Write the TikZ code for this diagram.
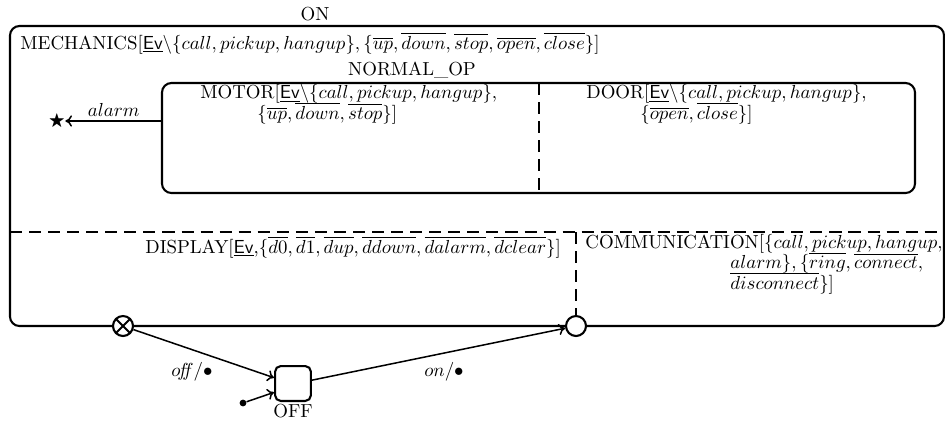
\documentclass[tikz,border=0pt]{standalone}
\usepackage{amssymb}
\usetikzlibrary{arrows.meta,fit}
\begin{document}
\begin{tikzpicture}[x=0.53pt,y=-0.53pt,
  box/.style={draw, line width=1.1pt, rounded corners=5pt, inner sep=0pt},
  sep/.style={line width=1.1pt, dash pattern=on 6.4pt off 3.7pt},
  conn/.style={line width=0.8pt, -{To[length=3.5pt,width=6pt,line width=0.8pt]}},
  txt/.style={inner sep=0pt, anchor=west},
  conn point/.style={circle, draw, line width=1.1pt, fill=white, minimum size=10.6pt, inner sep=0pt}]
\useasboundingbox (0,0) rectangle (945,421);
% outer state ON
\coordinate (onA) at (10,26);
\coordinate (onB) at (944,326);
\node[box, fit=(onA)(onB)] (on) {};
\node[inner sep=0pt] (onlbl) at (315,14) {ON};
\node[txt] (mech) at (20,43) {MECHANICS[$\underline{\textsf{Ev}}\backslash\{call,pickup,hangup\},\{\overline{up},\overline{down},\overline{stop},\overline{open},\overline{close}\}$]};
% NORMAL_OP
\coordinate (nA) at (162,83);
\coordinate (nB) at (915,193);
\node[box, fit=(nA)(nB)] (normal) {};
\node[inner sep=0pt] (normlbl) at (412,70) {NORMAL\_OP};
\coordinate (nsepT) at (539,83);
\coordinate (nsepB) at (539,193);
\draw[sep] (nsepT) -- (nsepB);
\node[txt] (motor1) at (200,94) {MOTOR[$\underline{\textsf{Ev}}\backslash\{call,pickup,hangup\}$,};
\node[txt] (motor2) at (257,113) {$\{\overline{up},\overline{down},\overline{stop}\}$]};
\node[txt] (door1) at (586,94) {DOOR[$\underline{\textsf{Ev}}\backslash\{call,pickup,hangup\}$,};
\node[txt] (door2) at (640,113) {$\{\overline{open},\overline{close}\}$]};
% alarm
\node[inner sep=0pt] (star) at (57,121) {\small$\bigstar$};
\coordinate (alarmsrc) at (162,121);
\draw[conn] (alarmsrc) -- node[above=2pt, inner sep=0pt] (alarmlbl) {$alarm$} (star);
% horizontal separator
\coordinate (hsepL) at (10,232);
\coordinate (hsepR) at (944,232);
\draw[sep] (hsepL) -- (hsepR);
\node[txt] (disp) at (145,247) {DISPLAY[$\underline{\textsf{Ev}}$,$\{\overline{d0},\overline{d1},\overline{dup},\overline{ddown},\overline{dalarm},\overline{dclear}\}$]};
\node[txt] (comm1) at (585,244) {COMMUNICATION[$\{call,pickup,hangup,$};
\node[txt] (comm2) at (730,263) {$alarm\},\{\overline{ring},\overline{connect},$};
\node[txt] (comm3) at (730,283) {$\overline{disconnect}\}$]};
% connection points
\node[conn point] (enter) at (576,326) {};
\node[conn point, path picture={
   \draw[line width=1.1pt] (path picture bounding box.north west) -- (path picture bounding box.south east)
     (path picture bounding box.north east) -- (path picture bounding box.south west);}] (exit) at (123,326) {};
\coordinate (vsepT) at (576,232);
\draw[sep] (vsepT) -- (enter.north);
% OFF
\node[draw, line width=1.1pt, rounded corners=3pt, minimum width=19pt, minimum height=18.5pt, inner sep=0pt] (off) at (293,383.5) {};
\node[inner sep=0pt] (offlbl) at (293,411) {OFF};
\node[circle, fill, inner sep=0pt, minimum size=3.6pt] (init) at (243,403) {};
\draw[conn] (init) -- (off.205);
\draw[conn] (exit) -- (off.163);
\draw[conn] (off.10) -- (enter);
\node[inner sep=0pt] (offtr) at (192,372) {$o\!f\!\!f/\bullet$};
\node[inner sep=0pt] (ontr) at (444,372) {$on/\bullet$};
\end{tikzpicture}
\end{document}
